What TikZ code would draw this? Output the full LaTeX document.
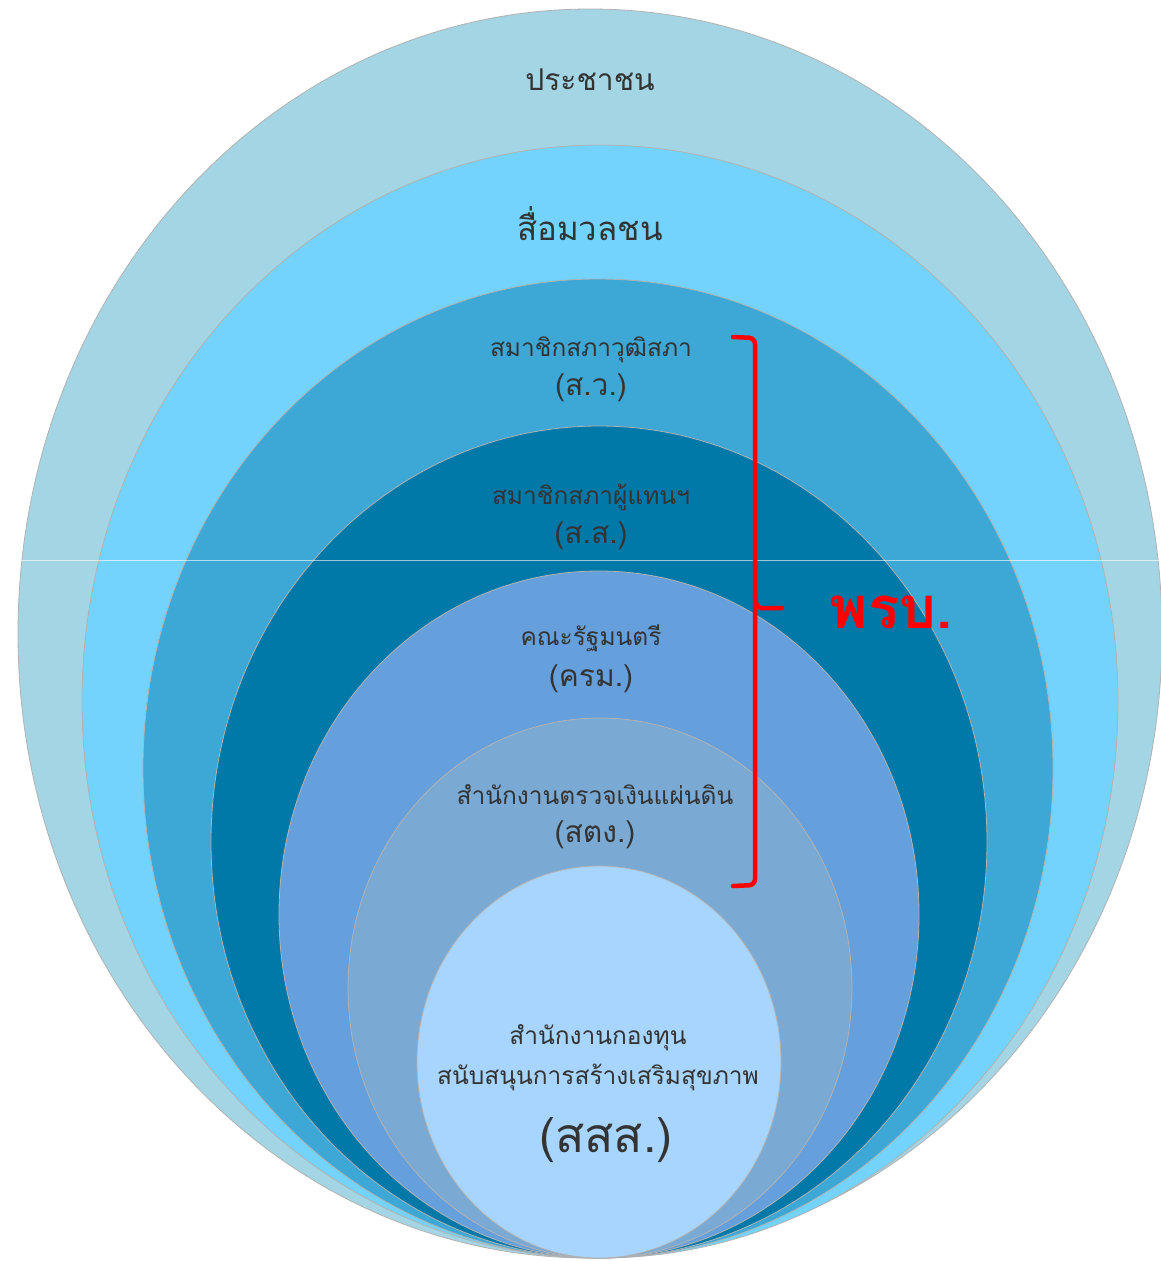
\documentclass[tikz,border=0pt]{standalone}
\usepackage{fontspec}
\newfontfamily\thaifont[Script=Thai]{Loma}
\usepackage{xcolor}

\definecolor{people}{HTML}{A3D5E4}
\definecolor{media}{HTML}{73D3FC}
\definecolor{senate}{HTML}{3DA7D5}
\definecolor{house}{HTML}{0079A8}
\definecolor{cabinet}{HTML}{659FDC}
\definecolor{audit}{HTML}{7AAAD3}
\definecolor{thaihealth}{HTML}{A8D5FD}
\definecolor{inkgray}{HTML}{333333}

\begin{document}
\begin{tikzpicture}[x=1pt, y=-1pt,
  layer/.style={draw=black!30, line width=0.8pt},
  lbl/.style={text=inkgray, align=center, inner sep=0pt},
  big/.style={font=\thaifont\fontsize{30}{34}\selectfont},
  small/.style={font=\thaifont\fontsize{24.5}{28}\selectfont}]
  \useasboundingbox[fill=white] (0,0) rectangle (1160,1261);

  %% Nested layers (outer to inner), all touching at the bottom
  \filldraw[layer, fill=people]     (590,633.5) ellipse [x radius=572, y radius=624.5];
  \filldraw[layer, fill=media]      (600,701.5) ellipse [x radius=518, y radius=556.5];
  \filldraw[layer, fill=senate]     (598,768.5) ellipse [x radius=455, y radius=489.5];
  \filldraw[layer, fill=house]      (599,842)   ellipse [x radius=388, y radius=416];
  \filldraw[layer, fill=cabinet]    (599,914.5) ellipse [x radius=320, y radius=343.5];
  \filldraw[layer, fill=audit]      (600,988)   ellipse [x radius=252, y radius=270];
  \filldraw[layer, fill=thaihealth] (599,1062)  ellipse [x radius=182, y radius=196];

  %% Faint seam across the picture
  \draw[white, opacity=0.6, line width=0.8pt] (20,560) -- (1160,560);

  %% Layer labels
  \node[lbl, big]   (people)  at (590,80)  {ประชาชน};
  \node[lbl, font=\thaifont\fontsize{33}{36}\selectfont] (media) at (590,224) {สื่อมวลชน};
  \node[lbl, small] (senate)  at (591,350) {สมาชิกสภาวุฒิสภา};
  \node[lbl, big]   (sv)      at (591,388) {(ส.ว.)};
  \node[lbl, small] (house)   at (591,497) {สมาชิกสภาผู้แทนฯ};
  \node[lbl, big]   (ss)      at (591,536) {(ส.ส.)};
  \node[lbl, small] (cabinet) at (591,638) {คณะรัฐมนตรี};
  \node[lbl, big]   (krm)     at (591,679) {(ครม.)};
  \node[lbl, small] (audit)   at (595,795) {สำนักงานตรวจเงินแผ่นดิน};
  \node[lbl, big]   (stg)     at (595,835) {(สตง.)};
  \node[lbl, small] (fund)    at (598,1038) {สำนักงานกองทุน};
  \node[lbl, small] (promo)   at (598,1077) {สนับสนุนการสร้างเสริมสุขภาพ};
  \node[lbl, font=\thaifont\fontsize{48}{52}\selectfont] (sss) at (606,1140) {(สสส.)};

  %% Red bracket grouping the bodies under the act
  \coordinate (btop) at (733,337);
  \coordinate (bbot) at (733,886);
  \draw[red, line width=4.5pt, line cap=round, rounded corners=6pt]
    (btop) -- (755,338) -- (755,885) -- (bbot);
  \draw[red, line width=4.5pt, line cap=round, rounded corners=4pt]
    (755,596) -- (757,608) -- (782,608);
  \node[text=red, inner sep=0pt, font=\thaifont\bfseries\fontsize{58}{62}\selectfont]
    (act) at (891,612) {พรบ.};
\end{tikzpicture}
\end{document}
